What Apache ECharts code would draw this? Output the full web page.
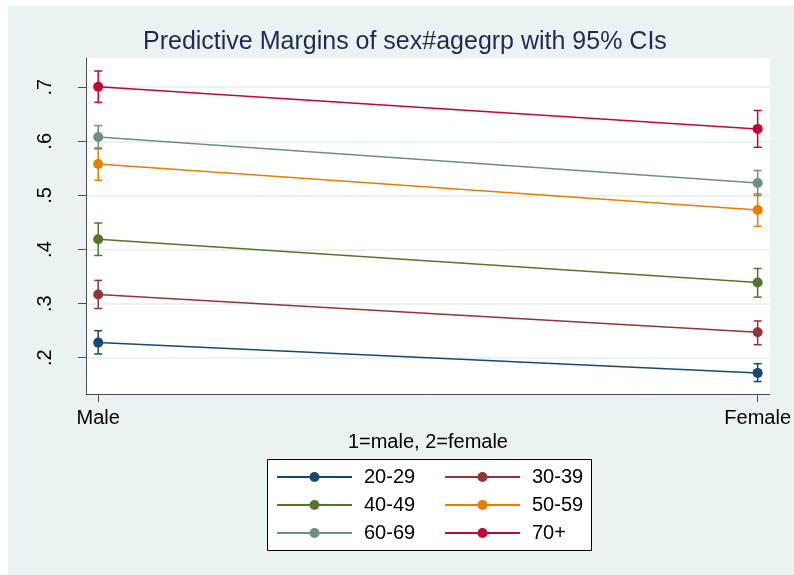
<!DOCTYPE html>
<html>
<head>
<meta charset="utf-8">
<title>Predictive Margins of sex#agegrp</title>
<script src="https://cdn.jsdelivr.net/npm/echarts@6/dist/echarts.min.js"></script>
<style>
  html, body { margin: 0; padding: 0; background: #fff; }
  #chart { width: 794px; height: 575px; }
</style>
</head>
<body>
<div id="chart"></div>
<script>
// Predictive margins by sex and age group, with 95% confidence intervals
var ageGroups = ['20-29', '30-39', '40-49', '50-59', '60-69', '70+'];
var sexLevels = [1, 2];
var sexLabels = ['Male', 'Female'];

var maleMargin  = [0.228, 0.317, 0.419, 0.558, 0.608, 0.701];
var maleLower   = [0.207, 0.291, 0.389, 0.528, 0.586, 0.672];
var maleUpper   = [0.250, 0.343, 0.449, 0.588, 0.629, 0.730];

var femaleMargin = [0.172, 0.247, 0.339, 0.473, 0.523, 0.623];
var femaleLower  = [0.156, 0.224, 0.312, 0.443, 0.500, 0.589];
var femaleUpper  = [0.189, 0.268, 0.365, 0.503, 0.546, 0.657];

var yTicks = [0.2, 0.3, 0.4, 0.5, 0.6, 0.7];

var groupColors = ['#1A476F', '#90353B', '#55752F', '#E37E00', '#6E8E84', '#C10534'];

var FONT = "'Liberation Sans', Arial, sans-serif";
var PANEL = '#EAF2F3';
var AXIS = '#4d4d4d';

var series = [];
ageGroups.forEach(function (g, i) {
  var color = groupColors[i];
  // confidence interval whiskers
  series.push({
    name: g,
    type: 'custom',
    z: 2,
    data: [
      [sexLevels[0], maleLower[i], maleUpper[i]],
      [sexLevels[1], femaleLower[i], femaleUpper[i]]
    ],
    encode: { x: 0, y: [1, 2] },
    renderItem: function (params, api) {
      var x = api.value(0);
      var lo = api.coord([x, api.value(1)]);
      var hi = api.coord([x, api.value(2)]);
      var cap = 4;
      var style = { stroke: color, lineWidth: 1.5 };
      return {
        type: 'group',
        children: [
          { type: 'line', shape: { x1: hi[0], y1: hi[1], x2: lo[0], y2: lo[1] }, style: style },
          { type: 'line', shape: { x1: hi[0] - cap, y1: hi[1], x2: hi[0] + cap, y2: hi[1] }, style: style },
          { type: 'line', shape: { x1: lo[0] - cap, y1: lo[1], x2: lo[0] + cap, y2: lo[1] }, style: style }
        ]
      };
    },
    silent: true
  });
  // margin line with point markers
  series.unshift({
    name: g,
    type: 'line',
    z: 3,
    data: [[sexLevels[0], maleMargin[i]], [sexLevels[1], femaleMargin[i]]],
    symbol: 'circle',
    symbolSize: 10,
    showSymbol: true,
    lineStyle: { color: color, width: 1.5 },
    itemStyle: { color: color },
    emphasis: { disabled: true },
    animation: false
  });
});

var legendText = { fontFamily: FONT, fontSize: 20, color: '#000', lineHeight: 20, padding: [0, 0, 0, 7] };

var chart = echarts.init(document.getElementById('chart'), null, { renderer: 'canvas' });
chart.setOption({
  backgroundColor: '#ffffff',
  animation: false,
  title: {
    text: 'Predictive Margins of sex#agegrp with 95% CIs',
    left: 143,
    top: 30,
    padding: 0,
    textStyle: { fontFamily: FONT, fontSize: 25, fontWeight: 'normal', color: '#1e2b4f' }
  },
  graphic: [
    { type: 'rect', z: -10, shape: { x: 8, y: 6, width: 786, height: 569 }, style: { fill: PANEL } },
    { type: 'rect', z: -5, shape: { x: 267.5, y: 459.5, width: 324, height: 91 }, style: { fill: '#fff', stroke: '#000', lineWidth: 1 } }
  ],
  legend: [
    {
      data: [ageGroups[0], ageGroups[2], ageGroups[4]],
      orient: 'vertical',
      left: 276,
      top: 467,
      padding: 0,
      itemWidth: 75,
      itemHeight: 12.5,
      itemGap: 8,
      textStyle: legendText,
      selectedMode: false
    },
    {
      data: [ageGroups[1], ageGroups[3], ageGroups[5]],
      orient: 'vertical',
      left: 444,
      top: 467,
      padding: 0,
      itemWidth: 75,
      itemHeight: 12.5,
      itemGap: 8,
      textStyle: legendText,
      selectedMode: false
    }
  ],
  grid: {
    left: 86,
    top: 58,
    width: 688,
    height: 336,
    show: true,
    backgroundColor: '#ffffff',
    borderWidth: 0,
    containLabel: false
  },
  xAxis: {
    type: 'value',
    min: 0.9815,
    max: 2.0185,
    name: '1=male, 2=female',
    nameLocation: 'middle',
    nameGap: 30,
    nameTextStyle: { fontFamily: FONT, fontSize: 20, color: '#000', verticalAlign: 'top' },
    axisLine: { show: true, onZero: false, lineStyle: { color: AXIS, width: 1 } },
    axisTick: { show: true, length: 8, customValues: sexLevels, lineStyle: { color: AXIS } },
    axisLabel: {
      customValues: sexLevels,
      margin: 14,
      fontFamily: FONT,
      fontSize: 20,
      color: '#000',
      formatter: function (v) { return sexLabels[sexLevels.indexOf(Math.round(v))] || ''; }
    },
    splitLine: { show: false }
  },
  yAxis: {
    type: 'value',
    min: 0.133,
    max: 0.754,
    axisLine: { show: true, onZero: false, lineStyle: { color: AXIS, width: 1 } },
    axisTick: { show: true, length: 8, customValues: yTicks, lineStyle: { color: AXIS } },
    axisLabel: {
      customValues: yTicks,
      rotate: 90,
      margin: 31,
      fontFamily: FONT,
      fontSize: 20,
      color: '#000',
      formatter: function (v) { return String(Math.round(v * 10) / 10).replace(/^0/, ''); }
    },
    splitLine: { show: true, lineStyle: { color: PANEL, width: 2 } }
  },
  series: series
});
</script>
</body>
</html>
